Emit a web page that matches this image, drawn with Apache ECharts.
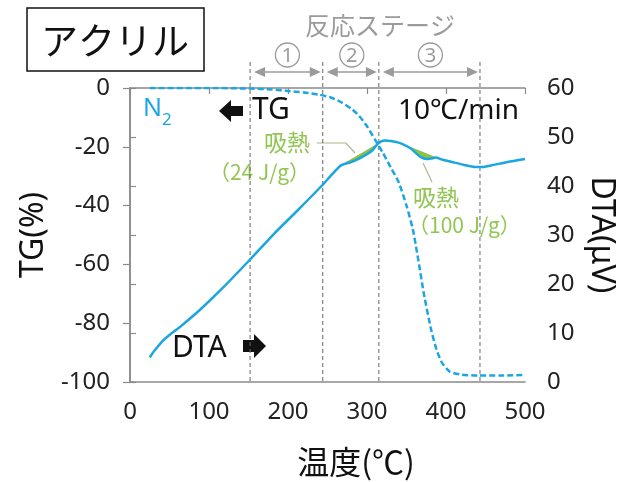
<!DOCTYPE html>
<html><head><meta charset="utf-8">
<script src="https://cdn.jsdelivr.net/npm/echarts@6/dist/echarts.min.js"></script>
<style>html,body{margin:0;padding:0;background:#fff}#c{width:628px;height:482px}</style>
</head><body><div id="c"></div>
<script>
// ---- data ----
const tgTemp  = [25, 100, 150, 180, 200, 220, 240, 255, 265, 280, 290, 300, 310, 320, 330, 340, 350, 358, 364, 372, 381, 388, 395, 405, 420, 440, 470, 500];
const tgValue = [0, 0, -0.2, -0.5, -1, -1.5, -2.3, -3.3, -4.5, -7, -9.5, -13, -17.5, -22, -27, -32, -40, -48, -57, -70, -82, -89, -93.5, -96.5, -97.5, -97.8, -97.8, -97.6];
const dtaTemp  = [25, 30, 35, 42, 50, 63, 89, 118, 152, 182, 212, 243, 266, 280, 290, 300, 307, 313, 318, 323, 330, 339, 347, 355, 362, 368, 375, 381, 387, 395, 410, 423, 436, 446, 457, 478, 500];
const dtaValue = [5.0, 6.2, 7.2, 8.5, 9.6, 11.2, 14.8, 19.3, 25.0, 30.2, 35.0, 40.1, 44.1, 44.9, 45.6, 46.5, 47.3, 48.5, 49.1, 49.3, 49.2, 48.9, 48.4, 47.7, 46.7, 45.9, 45.5, 45.6, 45.8, 45.4, 44.8, 44.3, 43.9, 43.9, 44.2, 44.9, 45.5];
const stageBounds = [152, 244, 315, 443];
const stageLabels = ['1', '2', '3'];
const endoRanges = [[266, 313], [347, 387]];
const xTicks = {min: 0, max: 500, step: 100};
const tgTicks = {min: -100, max: 0, step: 20};
const dtaTicks = {min: 0, max: 60, step: 10};

// ---- styles ----
const CYAN = '#1ba6e2';
const GREEN = '#8cc43f';
const GTEXT = '#92c653';
const AXIS = '#8a8a8a';
const GRAY = '#9b9b9b';
const LAT = '"Noto Sans", "Noto Sans CJK JP", sans-serif';
const JP = '"Noto Sans CJK JP", sans-serif';

const tgData = tgTemp.map((t, i) => [t, tgValue[i]]);
const dtaData = dtaTemp.map((t, i) => [t, dtaValue[i]]);

function dtaAt(t) {
  for (let i = 0; i < dtaTemp.length - 1; i++) {
    if (t >= dtaTemp[i] && t <= dtaTemp[i + 1]) {
      const f = (t - dtaTemp[i]) / (dtaTemp[i + 1] - dtaTemp[i]);
      return dtaValue[i] + f * (dtaValue[i + 1] - dtaValue[i]);
    }
  }
  return dtaValue[dtaValue.length - 1];
}

const chart = echarts.init(document.getElementById('c'), null, {renderer: 'canvas'});

const option = {
  animation: false,
  backgroundColor: '#fff',
  grid: {left: 130, right: 103, top: 88, bottom: 100},
  xAxis: [{
    type: 'value', min: xTicks.min, max: xTicks.max, interval: xTicks.step,
    axisLine: {lineStyle: {color: AXIS, width: 1.5}},
    axisTick: {inside: false, length: 6, lineStyle: {color: AXIS, width: 1.2}},
    axisLabel: {fontSize: 24, color: '#222', margin: 18, fontFamily: LAT},
    splitLine: {show: false}
  }, {
    type: 'value', position: 'top', min: xTicks.min, max: xTicks.max,
    axisLine: {show: true, lineStyle: {color: AXIS, width: 1.5}},
    axisTick: {show: false}, axisLabel: {show: false}, splitLine: {show: false}
  }],
  yAxis: [{
    type: 'value', min: tgTicks.min, max: tgTicks.max, interval: tgTicks.step,
    name: 'TG(%)', nameLocation: 'middle', nameGap: 76,
    nameTextStyle: {fontSize: 32, color: '#111', fontFamily: LAT},
    axisLine: {show: true, lineStyle: {color: AXIS, width: 1.5}},
    axisTick: {show: true, length: 7, lineStyle: {color: AXIS, width: 1.2}},
    axisLabel: {fontSize: 24, color: '#222', margin: 20, fontFamily: LAT},
    splitLine: {show: false}
  }, {
    type: 'value', position: 'right', min: dtaTicks.min, max: dtaTicks.max, interval: dtaTicks.step,
    name: 'DTA(μV)', nameLocation: 'middle', nameGap: 60, nameRotate: -90,
    nameTextStyle: {fontSize: 32, color: '#111', fontFamily: LAT},
    axisLine: {show: true, lineStyle: {color: AXIS, width: 1.5}},
    axisTick: {show: true, length: 6, lineStyle: {color: AXIS, width: 1.2}},
    axisLabel: {fontSize: 24, color: '#222', margin: 22, fontFamily: LAT},
    splitLine: {show: false}
  }],
  series: [
    {
      type: 'custom', name: 'endo', xAxisIndex: 0, yAxisIndex: 1, z: 1,
      data: endoRanges.map((r, i) => [r[0], i]),
      renderItem: function (params, api) {
        const r = endoRanges[params.dataIndex];
        const pts = [];
        pts.push(api.coord([r[0], dtaAt(r[0])]));
        pts.push(api.coord([r[1], dtaAt(r[1])]));
        for (let i = dtaTemp.length - 1; i >= 0; i--) {
          if (dtaTemp[i] > r[0] && dtaTemp[i] < r[1]) pts.push(api.coord([dtaTemp[i], dtaValue[i]]));
        }
        return {type: 'polygon', shape: {points: pts}, style: {fill: GREEN, stroke: '#7fb83a', lineWidth: 0.8}};
      }
    },
    {
      type: 'custom', name: 'stages', xAxisIndex: 0, yAxisIndex: 0, z: 0,
      data: stageBounds.map((b, i) => [b, i]),
      renderItem: function (params, api) {
        const i = params.dataIndex;
        const bot = api.coord([stageBounds[i], tgTicks.min]);
        const topY = api.coord([stageBounds[i], tgTicks.max])[1];
        const children = [{
          type: 'line', shape: {x1: bot[0], y1: topY - 26, x2: bot[0], y2: bot[1]},
          style: {stroke: '#666', lineWidth: 1, lineDash: [4, 3]}
        }];
        if (i < stageBounds.length - 1) {
          const x1 = bot[0] + 4, x2 = api.coord([stageBounds[i + 1], 0])[0] - 2;
          const y = topY - 16;
          const cx = (x1 + x2) / 2, cy = topY - 33;
          children.push({type: 'line', shape: {x1: x1 + 6, y1: y, x2: x2 - 6, y2: y}, style: {stroke: GRAY, lineWidth: 1.5}});
          children.push({type: 'polygon', shape: {points: [[x1, y], [x1 + 11, y - 5], [x1 + 11, y + 5]]}, style: {fill: GRAY}});
          children.push({type: 'polygon', shape: {points: [[x2, y], [x2 - 11, y - 5], [x2 - 11, y + 5]]}, style: {fill: GRAY}});
          children.push({type: 'circle', shape: {cx: cx, cy: cy, r: 12}, style: {fill: '#fff', stroke: GRAY, lineWidth: 1.3}});
          children.push({type: 'text', style: {text: stageLabels[i], x: cx, y: cy + 1, align: 'center', verticalAlign: 'middle', fontSize: 20, fill: GRAY, fontFamily: LAT}});
        }
        return {type: 'group', children: children};
      }
    },
    {
      type: 'line', name: 'TG', xAxisIndex: 0, yAxisIndex: 0, data: tgData, z: 3,
      symbol: 'none', smooth: 0.2,
      lineStyle: {color: CYAN, width: 2.5, type: [6, 3]}
    },
    {
      type: 'line', name: 'DTA', xAxisIndex: 0, yAxisIndex: 1, data: dtaData, z: 3,
      symbol: 'none', smooth: 0.2,
      lineStyle: {color: CYAN, width: 2.5}
    }
  ],
  graphic: [
    {type: 'rect', shape: {x: 27, y: 8, width: 177, height: 63}, style: {fill: '#fff', stroke: '#111', lineWidth: 1.5}},
    {type: 'text', style: {text: 'アクリル', x: 115, y: 41, align: 'center', verticalAlign: 'middle', fontSize: 37, fill: '#111', fontFamily: JP}},
    {type: 'text', style: {text: '反応ステージ', x: 380, y: 25, align: 'center', verticalAlign: 'middle', fontSize: 25, fill: GRAY, fontFamily: JP}},
    {type: 'text', style: {text: 'N', x: 143, y: 109, align: 'left', verticalAlign: 'middle', fontSize: 25, fill: CYAN, fontFamily: LAT}},
    {type: 'text', style: {text: '2', x: 162, y: 120, align: 'left', verticalAlign: 'middle', fontSize: 17, fill: CYAN, fontFamily: LAT}},
    {type: 'polygon', shape: {points: [[219, 111], [231, 100], [231, 106], [243, 106], [243, 116], [231, 116], [231, 122]]}, style: {fill: '#111'}},
    {type: 'text', style: {text: 'TG', x: 252, y: 110, align: 'left', verticalAlign: 'middle', fontSize: 30, fill: '#111', fontFamily: LAT}},
    {type: 'text', style: {text: '10℃/min', x: 519, y: 111, align: 'right', verticalAlign: 'middle', fontSize: 28, fill: '#111', fontFamily: LAT}},
    {type: 'text', style: {text: 'DTA', x: 172, y: 348, align: 'left', verticalAlign: 'middle', fontSize: 30, fill: '#111', fontFamily: LAT}},
    {type: 'polygon', shape: {points: [[266, 346], [254, 334], [254, 340], [243, 340], [243, 352], [254, 352], [254, 358]]}, style: {fill: '#111'}},
    {type: 'text', style: {text: '温度(℃)', x: 356, y: 462, align: 'center', verticalAlign: 'middle', fontSize: 32, fill: '#111', fontFamily: JP}},
    {type: 'text', style: {text: '吸熱', x: 310, y: 142, align: 'right', verticalAlign: 'middle', fontSize: 23, fill: GTEXT, fontFamily: JP}},
    {type: 'text', style: {text: '（24 J/g）', x: 310, y: 172, align: 'right', verticalAlign: 'middle', fontSize: 21, fill: GTEXT, fontFamily: JP}},
    {type: 'text', style: {text: '吸熱', x: 413, y: 197, align: 'left', verticalAlign: 'middle', fontSize: 23, fill: GTEXT, fontFamily: JP}},
    {type: 'text', style: {text: '（100 J/g）', x: 408, y: 225, align: 'left', verticalAlign: 'middle', fontSize: 21, fill: GTEXT, fontFamily: JP}},
    {type: 'polyline', shape: {points: [[317, 143], [346, 143], [355, 153]]}, style: {stroke: '#a9b98c', lineWidth: 1.2, fill: null}},
    {type: 'polyline', shape: {points: [[423, 163], [432, 182]]}, style: {stroke: '#a9b98c', lineWidth: 1.2, fill: null}}
  ]
};
chart.setOption(option);
</script>
</body></html>
